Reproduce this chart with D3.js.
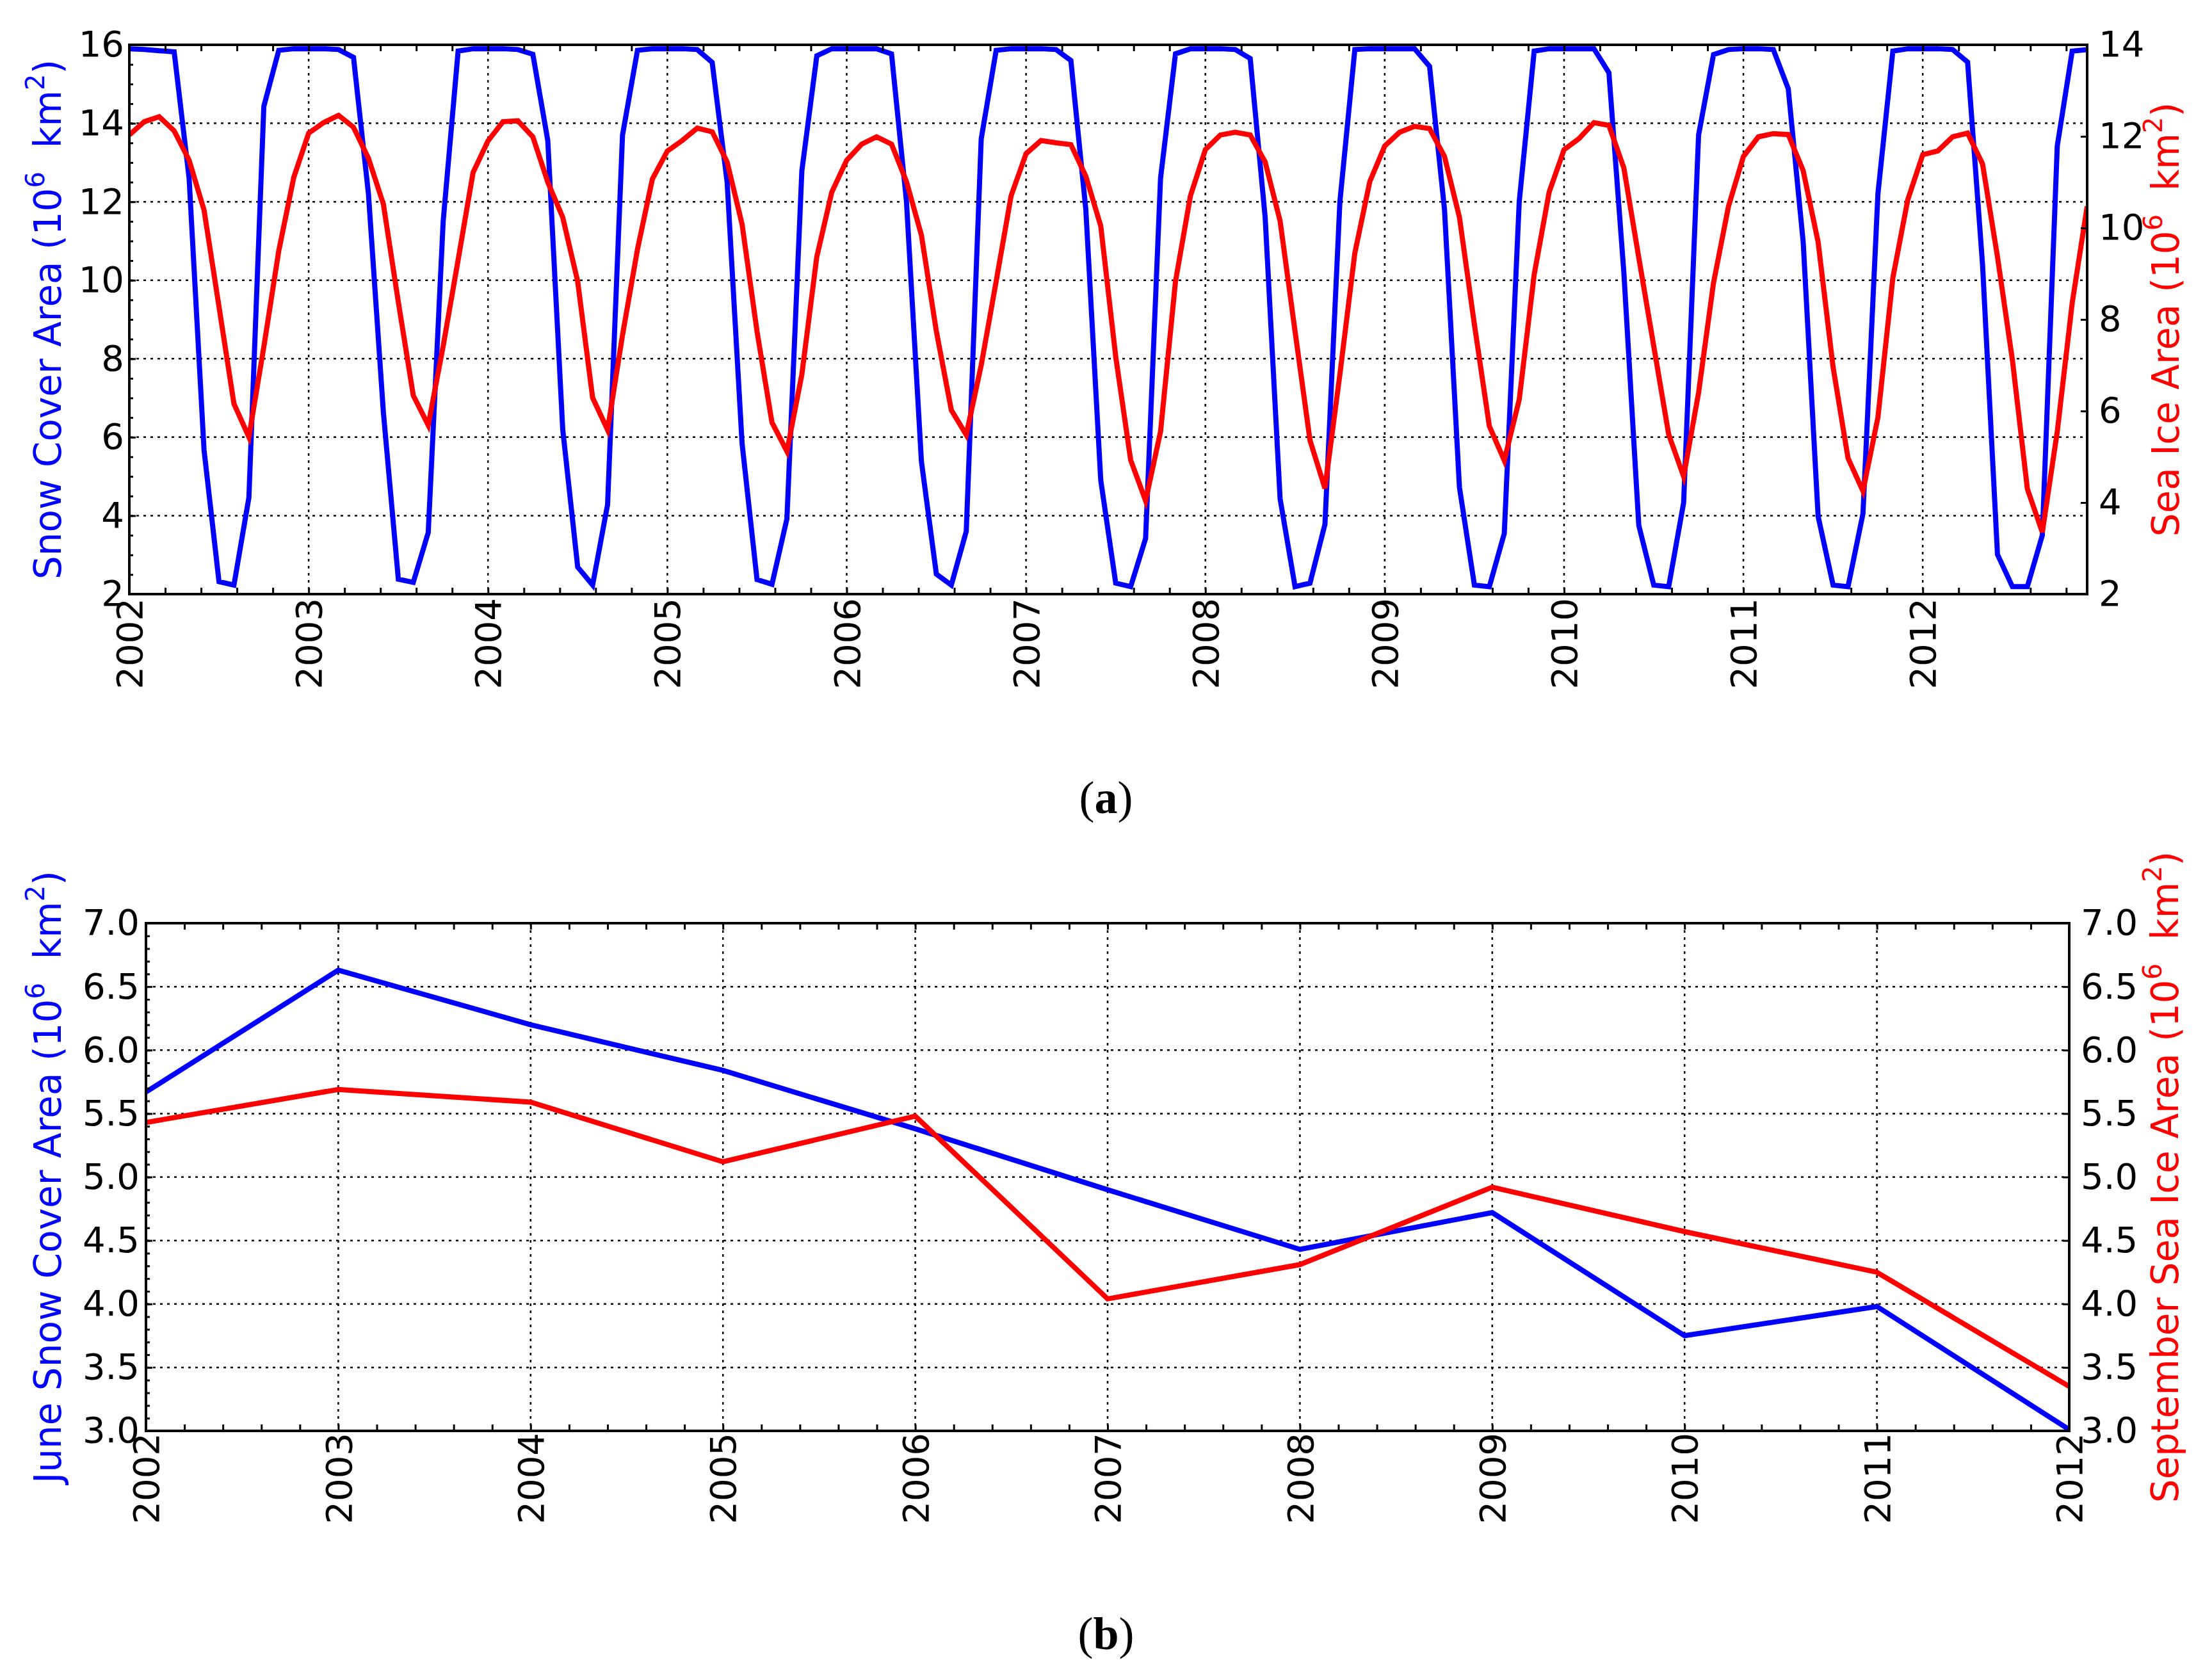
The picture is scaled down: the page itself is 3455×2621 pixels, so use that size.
<!DOCTYPE html>
<html>
<head>
<meta charset="utf-8">
<title>Snow cover and sea ice area</title>
<script src="https://cdn.jsdelivr.net/npm/d3@7"></script>
<style>
  body { margin: 0; background: white; }
  svg { display: block; background: white; }
  .tick text { font-family: "DejaVu Sans", sans-serif; font-size: 56px; fill: black; }
  .tick line { stroke: black; stroke-width: 3; }
  .grid line { stroke: black; stroke-width: 2.5; stroke-dasharray: 4,7; }
  .spine { fill: none; stroke: black; stroke-width: 4; }
  .label { font-family: "DejaVu Sans", sans-serif; font-size: 58px; }
  .caption { font-family: "Liberation Serif", "Times New Roman", serif; font-size: 72px; fill: black; }
</style>
</head>
<body>
<script>
// ---- data ----
var years = d3.range(2002, 2013);

// monthly snow cover area, Jan 2002 .. Dec 2012 (10^6 km^2)
var snowMonthly = [
  15.90, 15.88, 15.85, 15.82, 12.60, 5.67, 2.32, 2.23, 4.46, 14.43, 15.86, 15.90,
  15.90, 15.90, 15.88, 15.68, 12.20, 6.63, 2.38, 2.30, 3.57, 11.50, 15.84, 15.90,
  15.90, 15.90, 15.88, 15.76, 13.56, 6.20, 2.69, 2.23, 4.28, 13.70, 15.86, 15.90,
  15.90, 15.90, 15.88, 15.55, 12.50, 5.84, 2.37, 2.25, 3.92, 12.79, 15.72, 15.90,
  15.90, 15.90, 15.90, 15.77, 12.00, 5.38, 2.51, 2.23, 3.60, 13.60, 15.86, 15.90,
  15.90, 15.90, 15.88, 15.60, 11.80, 4.90, 2.28, 2.19, 3.42, 12.60, 15.77, 15.90,
  15.90, 15.90, 15.88, 15.65, 11.60, 4.43, 2.19, 2.28, 3.78, 12.00, 15.88, 15.90,
  15.90, 15.90, 15.90, 15.45, 11.80, 4.72, 2.23, 2.19, 3.55, 12.00, 15.84, 15.90,
  15.90, 15.90, 15.90, 15.29, 10.20, 3.75, 2.23, 2.19, 4.33, 13.70, 15.75, 15.88,
  15.90, 15.90, 15.88, 14.88, 10.97, 3.98, 2.23, 2.19, 4.05, 12.20, 15.84, 15.90,
  15.90, 15.90, 15.88, 15.56, 10.40, 3.01, 2.19, 2.19, 3.50, 13.42, 15.84, 15.88
];

// monthly sea ice area, Jan 2002 .. Dec 2012 (10^6 km^2)
var iceMonthly = [
  12.03, 12.32, 12.43, 12.12, 11.48, 10.39, 8.28, 6.16, 5.43, 7.40, 9.50, 11.10,
  12.07, 12.30, 12.46, 12.20, 11.52, 10.52, 8.38, 6.34, 5.69, 7.42, 9.30, 11.21,
  11.90, 12.32, 12.34, 11.99, 11.00, 10.23, 8.83, 6.29, 5.59, 7.66, 9.53, 11.07,
  11.68, 11.91, 12.18, 12.10, 11.44, 10.08, 7.74, 5.75, 5.12, 6.80, 9.37, 10.78,
  11.48, 11.83, 11.99, 11.83, 11.01, 9.84, 7.74, 6.02, 5.48, 7.00, 8.83, 10.70,
  11.62, 11.91, 11.86, 11.82, 11.13, 10.04, 7.19, 4.93, 4.04, 5.55, 8.83, 10.70,
  11.71, 12.03, 12.09, 12.03, 11.44, 10.15, 7.74, 5.36, 4.31, 6.80, 9.45, 11.01,
  11.79, 12.09, 12.22, 12.17, 11.56, 10.23, 7.89, 5.67, 4.92, 6.25, 8.98, 10.78,
  11.71, 11.95, 12.30, 12.24, 11.31, 9.35, 7.42, 5.49, 4.57, 6.40, 8.80, 10.47,
  11.56, 11.99, 12.06, 12.04, 11.25, 9.69, 6.96, 4.97, 4.25, 5.86, 8.91, 10.62,
  11.60, 11.68, 11.99, 12.07, 11.40, 9.37, 7.11, 4.30, 3.35, 5.55, 8.36, 10.47
];

var juneSnow = [5.67, 6.63, 6.20, 5.84, 5.38, 4.90, 4.43, 4.72, 3.75, 3.98, 3.01];
var septIce  = [5.43, 5.69, 5.59, 5.12, 5.48, 4.04, 4.31, 4.92, 4.57, 4.25, 3.35];

var topLeftTicks = d3.range(2, 17, 2);
var topLeftMinor = d3.range(4, 33).map(function (k) { return k / 2; });
var topRightTicks = d3.range(2, 15, 2);
var botTicks = d3.range(6, 15).map(function (k) { return k / 2; });
var botLeftMinor = d3.range(30, 71).map(function (k) { return k / 10; });

// ---- drawing ----
var W = 3455, H = 2621;
var svg = d3.select("body").append("svg").attr("width", W).attr("height", H);

function sup(text, s) {
  text.append("tspan").attr("font-size", "40px").attr("dy", -26).text(s);
}

function axisLabel(g, x, y, prefix, color) {
  var t = g.append("text").attr("class", "label")
    .attr("transform", "translate(" + x + "," + y + ") rotate(-90)")
    .attr("text-anchor", "middle").attr("fill", color);
  t.append("tspan").text(prefix + " (10");
  sup(t, "6");
  t.append("tspan").attr("dy", 26).text("\u00a0 km");
  sup(t, "2");
  t.append("tspan").attr("dy", 26).text(")");
}

function drawPanel(p) {
  var x = d3.scaleLinear().domain(p.xDomain).range([p.left, p.right]);
  var yL = d3.scaleLinear().domain(p.yLDomain).range([p.bottom, p.top]);
  var yR = d3.scaleLinear().domain(p.yRDomain).range([p.bottom, p.top]);
  var g = svg.append("g");

  g.append("clipPath").attr("id", "clip-" + p.name).append("rect")
    .attr("x", p.left).attr("y", p.top)
    .attr("width", p.right - p.left).attr("height", p.bottom - p.top);

  // grid (from the left axis and the year ticks)
  var grid = g.append("g").attr("class", "grid");
  grid.selectAll("line.v").data(years.filter(function (d) { return d > p.xDomain[0] && d < p.xDomain[1]; }))
    .enter().append("line")
    .attr("x1", function (d) { return x(d); }).attr("x2", function (d) { return x(d); })
    .attr("y1", p.top).attr("y2", p.bottom);
  grid.selectAll("line.h").data(p.yLTicks.filter(function (d) { return d > p.yLDomain[0] && d < p.yLDomain[1]; }))
    .enter().append("line")
    .attr("x1", p.left).attr("x2", p.right)
    .attr("y1", function (d) { return yL(d); }).attr("y2", function (d) { return yL(d); });

  // series
  var plot = g.append("g").attr("clip-path", "url(#clip-" + p.name + ")");
  plot.append("path").datum(p.blue)
    .attr("fill", "none").attr("stroke", "#0000ff").attr("stroke-width", 8)
    .attr("d", d3.line().x(function (d) { return x(d[0]); }).y(function (d) { return yL(d[1]); }));
  plot.append("path").datum(p.red)
    .attr("fill", "none").attr("stroke", "#ff0000").attr("stroke-width", 8)
    .attr("d", d3.line().x(function (d) { return x(d[0]); }).y(function (d) { return yR(d[1]); }));

  // spines
  g.append("rect").attr("class", "spine")
    .attr("x", p.left).attr("y", p.top)
    .attr("width", p.right - p.left).attr("height", p.bottom - p.top);

  function noDomain(s) { s.select(".domain").remove(); }

  // inward tick marks
  g.append("g").attr("transform", "translate(0," + p.bottom + ")")
    .call(d3.axisBottom(x).tickValues(p.xMinor).tickSize(-10).tickFormat("")).call(noDomain);
  g.append("g").attr("transform", "translate(0," + p.top + ")")
    .call(d3.axisTop(x).tickValues(p.xMinor).tickSize(-10).tickFormat("")).call(noDomain);
  g.append("g").attr("transform", "translate(" + p.left + ",0)")
    .call(d3.axisLeft(yL).tickValues(p.yLMinor).tickSize(-6).tickFormat("")).call(noDomain);
  g.append("g").attr("transform", "translate(" + p.left + ",0)")
    .call(d3.axisLeft(yL).tickValues(p.yLTicks).tickSize(-10).tickFormat("")).call(noDomain);
  g.append("g").attr("transform", "translate(" + p.right + ",0)")
    .call(d3.axisRight(yR).tickValues(p.yRTicks).tickSize(-10).tickFormat("")).call(noDomain);

  // tick labels
  g.append("g").attr("transform", "translate(0," + p.bottom + ")")
    .call(d3.axisBottom(x).tickValues(years.filter(function (d) { return d <= p.xDomain[1]; }))
      .tickSize(0).tickFormat(d3.format("d")))
    .call(noDomain)
    .call(function (s) {
      s.selectAll("text").attr("transform", "rotate(-90)")
        .attr("x", -p.xPad).attr("y", 0).attr("dy", "0.35em").attr("text-anchor", "end");
    });
  g.append("g").attr("transform", "translate(" + p.left + ",0)")
    .call(d3.axisLeft(yL).tickValues(p.yLTicks).tickSize(0).tickPadding(p.lPad).tickFormat(p.fmt))
    .call(noDomain);
  g.append("g").attr("transform", "translate(" + p.right + ",0)")
    .call(d3.axisRight(yR).tickValues(p.yRTicks).tickSize(0).tickPadding(p.rPad).tickFormat(p.fmt))
    .call(noDomain);

  axisLabel(g, p.lLabelX, (p.top + p.bottom) / 2, p.lLabel, "#0000ff");
  axisLabel(g, p.rLabelX, (p.top + p.bottom) / 2, p.rLabel, "#ff0000");

  var cap = g.append("text").attr("class", "caption")
    .attr("x", W / 2).attr("y", p.capY).attr("text-anchor", "middle");
  cap.append("tspan").text("(");
  cap.append("tspan").attr("font-weight", "bold").text(p.caption);
  cap.append("tspan").text(")");
}

// (a) monthly series
drawPanel({
  name: "a",
  left: 202, right: 3260, top: 70, bottom: 928,
  xDomain: [2002, 2002 + 131 / 12],
  yLDomain: [2, 16], yRDomain: [2, 14],
  xMinor: d3.range(0, 55).map(function (k) { return 2002 + k / 5; }),
  yLTicks: topLeftTicks, yLMinor: topLeftMinor, yRTicks: topRightTicks,
  fmt: d3.format("d"),
  blue: snowMonthly.map(function (v, i) { return [2002 + i / 12, v]; }),
  red: iceMonthly.map(function (v, i) { return [2002 + i / 12, v]; }),
  xPad: 6, lPad: 8, rPad: 18,
  lLabel: "Snow Cover Area", rLabel: "Sea Ice Area",
  lLabelX: 95, rLabelX: 3403,
  caption: "a", capY: 1270
});

// (b) June snow vs September ice
drawPanel({
  name: "b",
  left: 228, right: 3232, top: 1442, bottom: 2235,
  xDomain: [2002, 2012],
  yLDomain: [3, 7], yRDomain: [3, 7],
  xMinor: d3.range(0, 51).map(function (k) { return 2002 + k / 5; }),
  yLTicks: botTicks, yLMinor: botLeftMinor, yRTicks: botTicks,
  fmt: d3.format(".1f"),
  blue: juneSnow.map(function (v, i) { return [years[i], v]; }),
  red: septIce.map(function (v, i) { return [years[i], v]; }),
  xPad: 3, lPad: 10, rPad: 18,
  lLabel: "June Snow Cover Area", rLabel: "September Sea Ice Area",
  lLabelX: 95, rLabelX: 3402,
  caption: "b", capY: 2576
});
</script>
</body>
</html>
